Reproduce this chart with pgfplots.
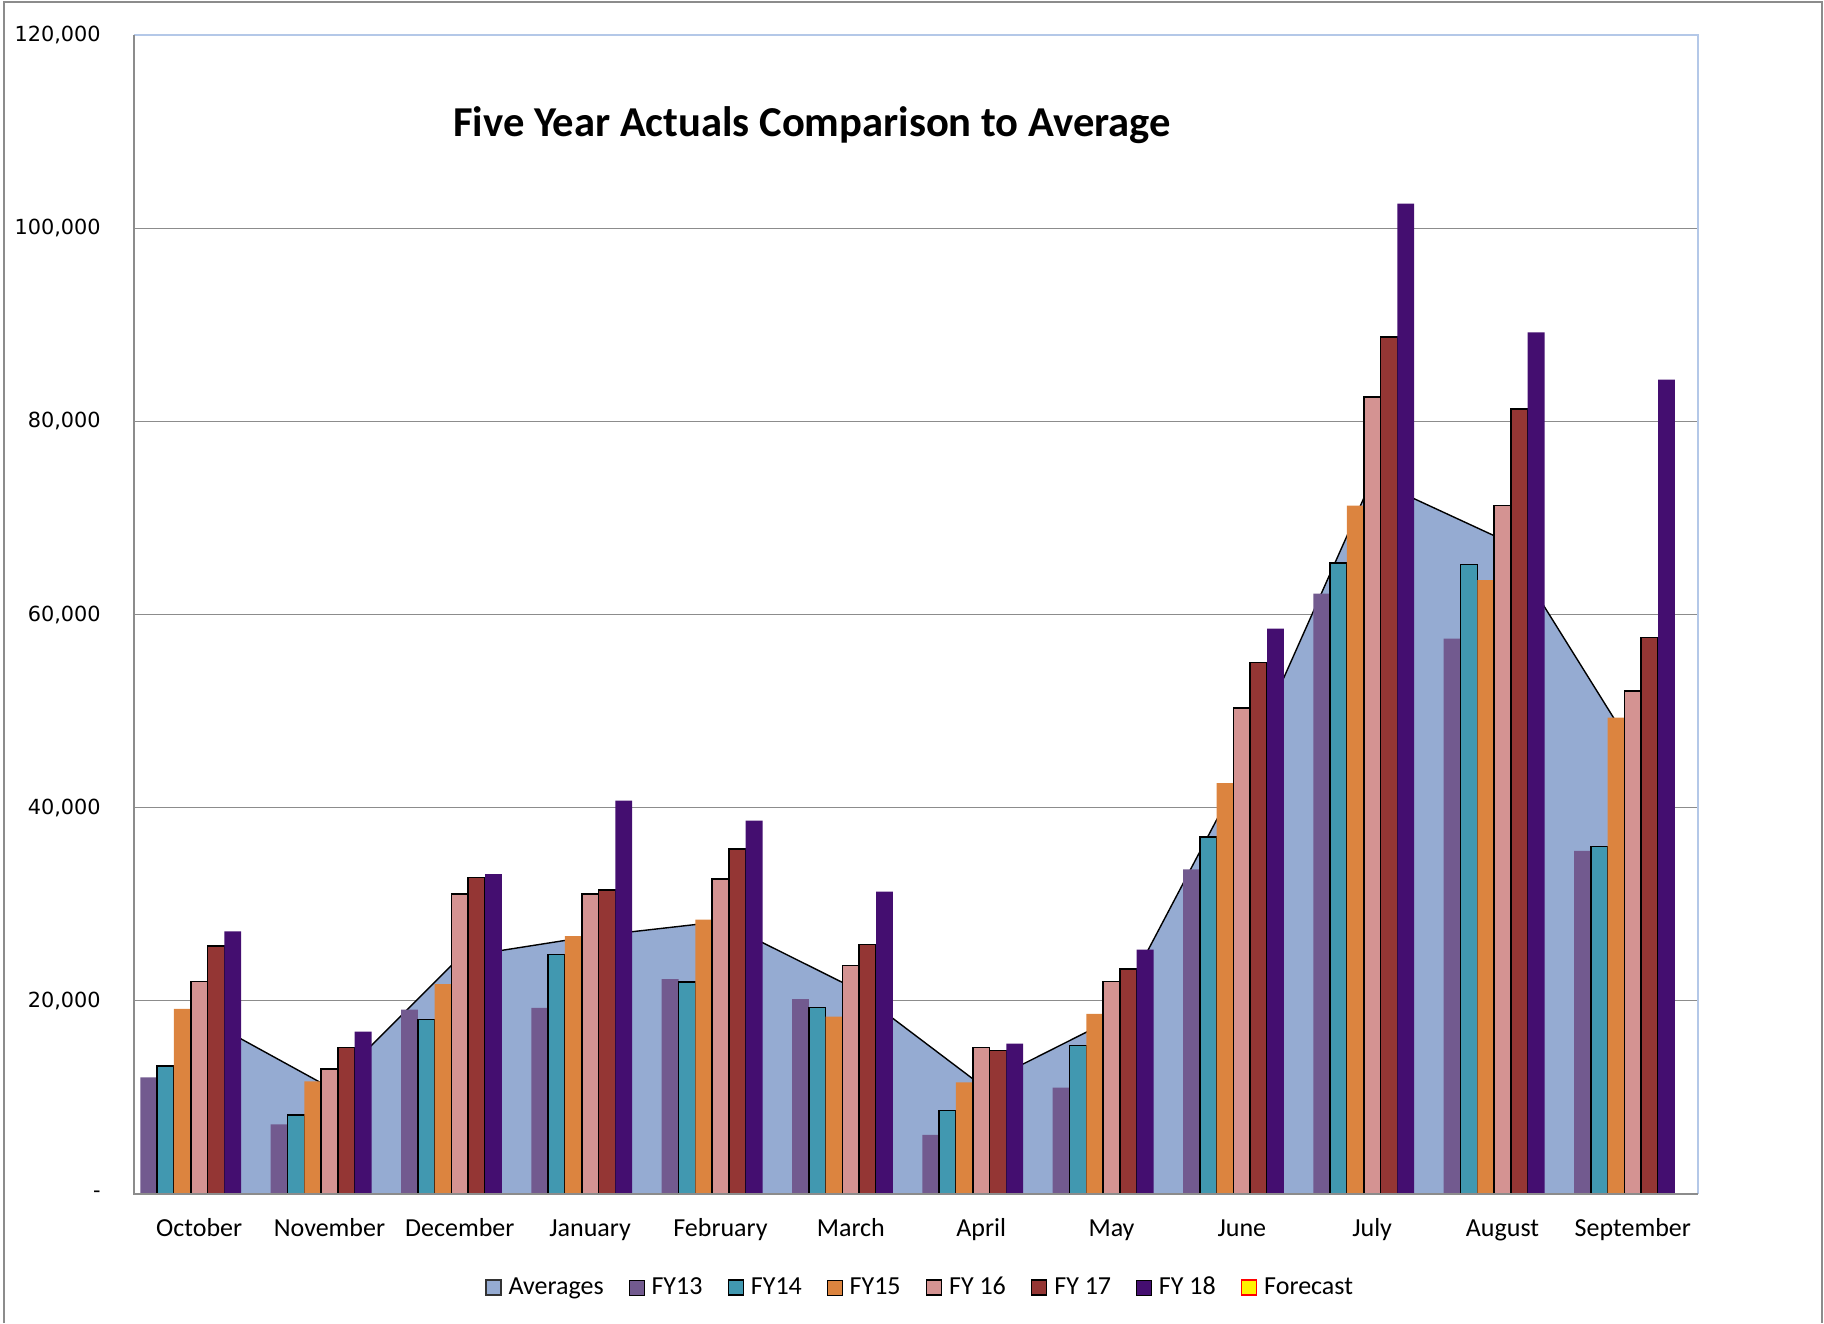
\documentclass[border=0pt]{standalone}
\usepackage{pgfplots}
\pgfplotsset{compat=1.18}
\usepackage{pgfplotstable}
\usepackage{fontspec}
\setmainfont{Carlito}
\newfontfamily\dejavu{DejaVu Sans}
\definecolor{cavg}{HTML}{95ABD2}
\definecolor{c13}{HTML}{725A8F}
\definecolor{c14}{HTML}{4198B0}
\definecolor{c15}{HTML}{DC843F}
\definecolor{c16}{HTML}{D49392}
\definecolor{c17}{HTML}{943634}
\definecolor{c18}{HTML}{440E70}
\definecolor{cgrid}{HTML}{8C8C8C}
\definecolor{cblue}{HTML}{B4C8E8}
\pgfplotstableread{
x FY13 FY14 FY15 FY16 FY17 FY18 Avg
0 12070 13280 19180 22010 25660 27190 18440
1 7210 8180 11660 12940 15180 16800 11034
2 19080 18050 21740 31090 32750 33130 24542
3 19260 24780 26710 31090 31470 40720 26662
4 22260 21980 28400 32610 35720 38650 28194
5 20190 19320 18360 23640 25850 31300 21472
6 6110 8660 11560 15180 14840 15560 11270
7 11010 15390 18640 22010 23290 25300 18068
8 33610 36980 42540 50330 55030 58550 43698
9 62160 65340 71280 82490 88710 102530 73996
10 57500 65160 63570 71300 81260 89210 67758
11 35520 35970 49330 52110 57610 84330 46108
}\datatable
\begin{document}
\begin{tikzpicture}
\useasboundingbox (-67pt,-64.5pt) rectangle (845pt,597pt);
\draw[cgrid, line width=0.6pt] (-65pt,-64.5pt) -- (-65pt,596pt) -- (844pt,596pt) -- (844pt,-64.5pt);
\begin{axis}[
  at={(0pt,0pt)}, anchor=south west,
  scale only axis, width=782pt, height=579.5pt,
  xmin=-0.5, xmax=11.5, ymin=0, ymax=120000,
  axis line style={draw=none},
  scaled y ticks=false,
  ytick={0,20000,40000,60000,80000,100000,120000},
  yticklabels={{-},{20,000},{40,000},{60,000},{80,000},{100,000},{120,000}},
  ymajorgrids, grid style={cgrid, line width=0.65pt},
  xtick={0,1,2,3,4,5,6,7,8,9,10,11},
  xticklabels={October,November,December,January,February,March,April,May,June,July,August,September},
  major tick length=0pt,
  yticklabel style={font=\dejavu\fontsize{10.4}{12}\selectfont, anchor=east, inner sep=0pt, xshift=-16.5pt},
  xticklabel style={font=\fontsize{13}{15}\selectfont, anchor=base, inner sep=0pt, yshift=-21.2pt},
  legend style={at={(0.502,-0.0807)}, anchor=center, draw=none, fill=none,
    legend columns=-1, font=\fontsize{13}{15}\selectfont,
    nodes={inner sep=0pt},
    /tikz/every odd column/.append style={column sep=3.5pt},
    /tikz/every even column/.append style={column sep=12.5pt}},
  legend image code/.code={\draw[#1] (0pt,-3.75pt) rectangle (7.5pt,3.75pt);},
]
\addplot[draw=none, fill=cavg, forget plot] table[x=x,y=Avg]{\datatable} \closedcycle;
\addplot[black, line width=0.7pt, forget plot] table[x=x,y=Avg]{\datatable};
\addplot[ybar, bar width=8.4pt, bar shift=-25.2pt, fill=c13, draw=none, forget plot] table[x=x,y=FY13]{\datatable};
\addplot[ybar, bar width=8.4pt, bar shift=-16.8pt, fill=c14, draw=black, line width=0.8pt, forget plot] table[x=x,y=FY14]{\datatable};
\addplot[ybar, bar width=8.4pt, bar shift=-8.4pt, fill=c15, draw=none, forget plot] table[x=x,y=FY15]{\datatable};
\addplot[ybar, bar width=8.4pt, bar shift=0pt, fill=c16, draw=black, line width=0.8pt, forget plot] table[x=x,y=FY16]{\datatable};
\addplot[ybar, bar width=8.4pt, bar shift=8.4pt, fill=c17, draw=black, line width=0.8pt, forget plot] table[x=x,y=FY17]{\datatable};
\addplot[ybar, bar width=8.4pt, bar shift=16.8pt, fill=c18, draw=none, forget plot] table[x=x,y=FY18]{\datatable};
\addlegendimage{fill=cavg, draw=black!80, line width=0.7pt}
\addlegendentry{Averages}
\addlegendimage{fill=c13, draw=none}
\addlegendentry{FY13}
\addlegendimage{fill=c14, draw=black, line width=0.7pt}
\addlegendentry{FY14}
\addlegendimage{fill=c15, draw=none}
\addlegendentry{FY15}
\addlegendimage{fill=c16, draw=black, line width=0.7pt}
\addlegendentry{FY 16}
\addlegendimage{fill=c17, draw=black, line width=0.7pt}
\addlegendentry{FY 17}
\addlegendimage{fill=c18, draw=none}
\addlegendentry{FY 18}
\addlegendimage{fill=yellow, draw=red, line width=0.7pt}
\addlegendentry{Forecast}
\node[font=\bfseries\fontsize{21.3}{25}\selectfont] at (rel axis cs:0.4335,0.922) {Five Year Actuals Comparison to Average};
\end{axis}
\draw[cblue, line width=0.8pt] (0pt,579.5pt) -- (782pt,579.5pt) -- (782pt,0pt);
\draw[cgrid, line width=0.8pt] (0pt,579.5pt) -- (0pt,0pt) -- (782pt,0pt);
\end{tikzpicture}
\end{document}
